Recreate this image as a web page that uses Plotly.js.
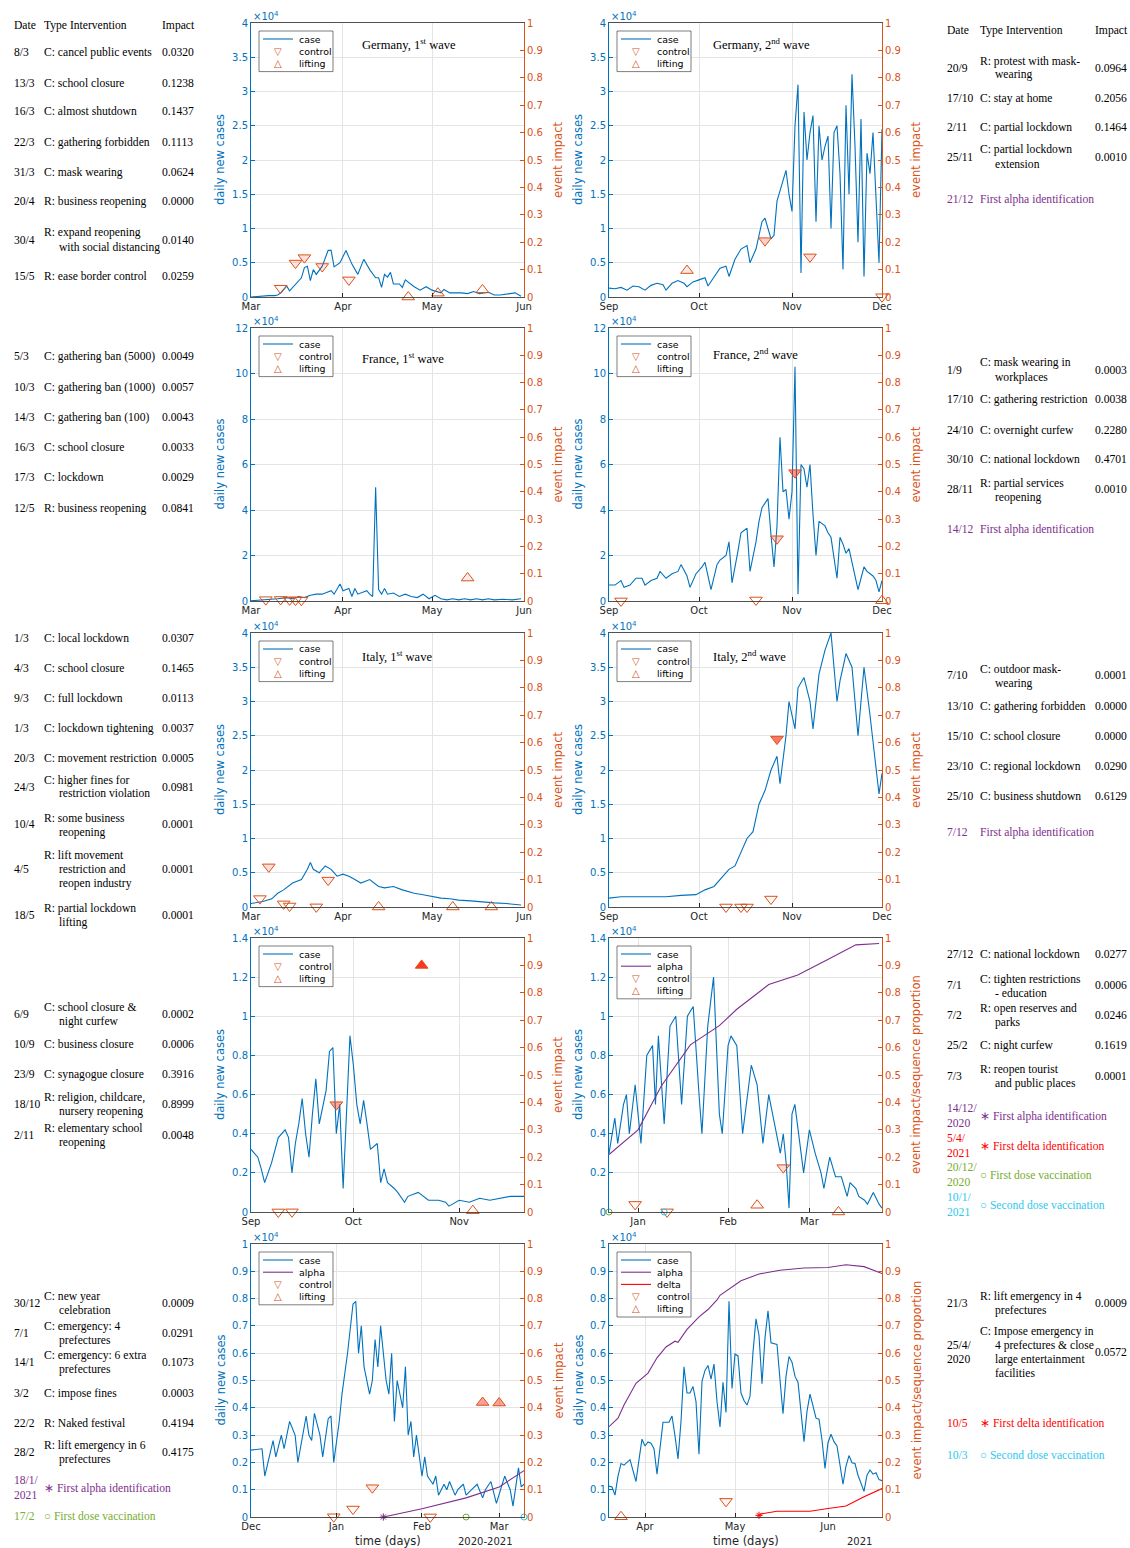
<!DOCTYPE html>
<html><head><meta charset="utf-8">
<script src="https://cdn.plot.ly/plotly-3.0.1.min.js"></script>
<style>body{margin:0;background:#fff}#chart{width:1130px;height:1548px}</style>
</head><body><div id="chart"></div><script>
// ---------------- DATA (daily new cases in units of 10^4; impacts on 0-1) ----------------
const de1Dates=['03-01','03-03','03-05','03-07','03-09','03-10','03-11','03-13','03-14','03-16','03-18','03-19','03-20','03-21','03-22','03-23','03-25','03-27','03-28','03-29','03-31','04-02','04-04','04-06','04-08','04-10','04-12','04-13','04-14','04-15','04-16','04-17','04-18','04-20','04-21','04-22','04-25','04-27','04-29','05-01','05-04','05-05','05-07','05-11','05-13','05-15','05-17','05-20','05-22','05-24','05-28','05-29','05-31'];
const de1Cases=[0.00,0.01,0.01,0.02,0.02,0.03,0.06,0.16,0.09,0.19,0.28,0.43,0.45,0.24,0.40,0.33,0.45,0.68,0.68,0.44,0.50,0.68,0.48,0.33,0.55,0.40,0.28,0.28,0.14,0.33,0.29,0.36,0.19,0.19,0.14,0.25,0.15,0.10,0.15,0.10,0.06,0.11,0.06,0.06,0.05,0.08,0.05,0.07,0.03,0.03,0.05,0.06,0.01];
const de1CtrlDates=['03-11','03-16','03-19','03-25','04-03'], de1CtrlImpact=[0.0320,0.1238,0.1437,0.1113,0.0624];
const de1LiftDates=['04-23','05-03','05-18'], de1LiftImpact=[0.0000,0.0140,0.0259];

const de2Dates=['09-01','09-03','09-05','09-07','09-09','09-11','09-13','09-15','09-17','09-19','09-20','09-22','09-24','09-26','09-27','09-29','10-01','10-03','10-04','10-06','10-08','10-10','10-11','10-13','10-15','10-17','10-18','10-20','10-22','10-23','10-25','10-26','10-27','10-28','10-29','10-30','10-31','11-01','11-02','11-03','11-04','11-05','11-06','11-07','11-08','11-09','11-10','11-11','11-12','11-13','11-14','11-15','11-16','11-17','11-18','11-19','11-20','11-21','11-22','11-23','11-24','11-25','11-26','11-27','11-28','11-30','12-01'];
const de2Cases=[0.13,0.12,0.14,0.10,0.16,0.15,0.10,0.17,0.20,0.18,0.10,0.20,0.24,0.20,0.15,0.22,0.25,0.28,0.16,0.30,0.42,0.45,0.30,0.55,0.70,0.75,0.50,0.70,1.10,1.15,0.85,0.90,1.40,1.55,1.70,1.85,1.50,1.25,2.50,3.10,0.35,2.70,2.00,2.40,2.65,1.10,2.50,2.00,2.20,2.35,1.00,2.40,2.50,1.80,0.40,2.80,1.50,3.25,2.20,0.80,2.60,0.30,2.10,1.80,2.40,0.50,2.45];
const de2CtrlDates=['10-23','11-07','12-01'], de2CtrlImpact=[0.2056,0.1464,0.0010];
const de2LiftDates=['09-27'], de2LiftImpact=[0.0964];

const fr1Dates=['03-01','03-04','03-07','03-10','03-13','03-15','03-17','03-19','03-21','03-23','03-25','03-27','03-28','03-29','03-31','04-01','04-02','04-03','04-04','04-05','04-06','04-08','04-09','04-10','04-11','04-12','04-13','04-14','04-15','04-16','04-18','04-20','04-22','04-24','04-26','04-28','04-30','05-02','05-04','05-06','05-08','05-10','05-12','05-14','05-16','05-18','05-20','05-22','05-25','05-28','05-31'];
const fr1Cases=[0.01,0.03,0.06,0.10,0.15,0.10,0.20,0.15,0.25,0.30,0.30,0.40,0.45,0.30,0.75,0.45,0.50,0.55,0.20,0.55,0.30,0.40,0.45,0.30,0.20,5.00,0.50,0.30,0.55,0.30,0.35,0.20,0.30,0.20,0.15,0.30,0.10,0.25,0.10,0.05,0.10,0.05,0.10,0.05,0.10,0.05,0.10,0.05,0.08,0.05,0.10];
const fr1CtrlDates=['03-06','03-11','03-14','03-16','03-18'], fr1CtrlImpact=[0.0049,0.0057,0.0043,0.0033,0.0029];
const fr1LiftDates=['05-13'], fr1LiftImpact=[0.0841];

const fr2Dates=['09-01','09-03','09-05','09-06','09-08','09-10','09-12','09-13','09-15','09-17','09-18','09-20','09-22','09-24','09-25','09-27','09-28','09-30','10-02','10-03','10-05','10-07','10-08','10-10','10-11','10-12','10-14','10-15','10-17','10-18','10-20','10-21','10-22','10-24','10-25','10-26','10-27','10-28','10-29','10-30','10-31','11-01','11-02','11-03','11-04','11-05','11-06','11-07','11-08','11-09','11-10','11-12','11-13','11-14','11-16','11-17','11-18','11-19','11-20','11-22','11-23','11-24','11-25','11-26','11-27','11-28','11-29','11-30','12-01'];
const fr2Cases=[0.7,0.7,0.9,0.6,0.7,1.0,1.0,0.7,0.9,1.0,1.3,1.0,1.2,1.3,1.6,1.1,0.6,1.2,1.5,1.7,0.5,1.6,1.8,2.0,2.6,0.8,2.2,3.0,3.2,1.3,2.6,3.5,4.1,4.5,2.9,1.5,3.3,7.2,4.8,4.9,3.6,4.8,10.3,0.3,6.0,5.8,5.0,6.0,3.8,2.0,3.5,3.3,3.0,2.8,1.0,2.8,2.5,2.1,2.3,1.1,0.5,1.0,1.5,1.3,1.2,1.1,0.9,0.4,0.9];
const fr2CtrlDates=['09-05','10-20','10-27','11-02'], fr2CtrlImpact=[0.0003,0.0038,0.2280,0.4701];
const fr2LiftDates=['12-01'], fr2LiftImpact=[0.0010];

const it1Dates=['03-01','03-03','03-05','03-08','03-10','03-12','03-15','03-18','03-20','03-21','03-22','03-24','03-26','03-28','03-30','04-01','04-03','04-05','04-07','04-10','04-13','04-15','04-18','04-21','04-25','04-28','05-01','05-04','05-07','05-10','05-14','05-18','05-22','05-26','05-31'];
const it1Cases=[0.05,0.06,0.08,0.12,0.20,0.25,0.35,0.40,0.55,0.65,0.55,0.50,0.60,0.55,0.45,0.48,0.45,0.40,0.35,0.40,0.30,0.28,0.30,0.25,0.20,0.18,0.15,0.13,0.12,0.10,0.09,0.07,0.06,0.05,0.03];
const it1CtrlDates=['03-04','03-07','03-12','03-14','03-23','03-27'], it1CtrlImpact=[0.0307,0.1465,0.0113,0.0037,0.0005,0.0981];
const it1LiftDates=['04-13','05-08','05-21'], it1LiftImpact=[0.0001,0.0001,0.0001];

const it2Dates=['09-01','09-05','09-10','09-15','09-20','09-25','09-30','10-03','10-06','10-09','10-11','10-13','10-15','10-17','10-19','10-21','10-23','10-25','10-27','10-28','10-30','10-31','11-02','11-03','11-05','11-07','11-08','11-10','11-12','11-14','11-16','11-17','11-19','11-21','11-23','11-25','11-27','11-29','11-30','12-01'];
const it2Cases=[0.13,0.15,0.15,0.15,0.15,0.17,0.18,0.25,0.30,0.45,0.55,0.60,0.80,1.00,1.10,1.50,1.70,2.00,2.20,1.80,2.50,3.00,2.60,3.20,3.35,3.00,2.60,3.40,3.75,4.00,3.00,3.30,3.70,3.50,2.50,3.50,2.80,2.00,1.65,1.95];
const it2CtrlDates=['10-10','10-15','10-17','10-25','10-27'], it2CtrlImpact=[0.0001,0.0000,0.0000,0.0290,0.6129];
const it2LiftDates=[], it2LiftImpact=[];

const is1Dates=['09-01','09-02','09-03','09-04','09-05','09-07','09-08','09-09','09-11','09-12','09-13','09-14','09-15','09-16','09-17','09-18','09-19','09-20','09-21','09-23','09-24','09-25','09-26','09-27','09-28','09-30','10-01','10-02','10-03','10-04','10-05','10-06','10-08','10-09','10-10','10-11','10-13','10-14','10-16','10-17','10-20','10-23','10-26','10-28','10-29','11-01','11-04','11-07','11-10','11-13','11-16','11-20'];
const is1Cases=[0.32,0.30,0.28,0.22,0.15,0.25,0.32,0.38,0.42,0.38,0.20,0.35,0.45,0.58,0.40,0.28,0.50,0.68,0.45,0.62,0.82,0.84,0.40,0.55,0.12,0.90,0.75,0.55,0.45,0.57,0.45,0.32,0.35,0.15,0.22,0.15,0.12,0.10,0.05,0.08,0.10,0.06,0.06,0.05,0.03,0.06,0.05,0.07,0.06,0.07,0.08,0.08];
const is1CtrlDates=['09-09','09-13','09-26'], is1CtrlImpact=[0.0002,0.0006,0.3916];
const is1LiftDates=['10-21','11-05'], is1LiftImpact=[0.8999,0.0048];

const is2Dates=['2020-12-22','2020-12-24','2020-12-25','2020-12-27','2020-12-28','2020-12-29','2020-12-31','2021-01-02','2021-01-04','2021-01-06','2021-01-07','2021-01-08','2021-01-10','2021-01-12','2021-01-14','2021-01-16','2021-01-18','2021-01-20','2021-01-22','2021-01-23','2021-01-25','2021-01-27','2021-01-29','2021-01-30','2021-02-01','2021-02-02','2021-02-04','2021-02-06','2021-02-09','2021-02-11','2021-02-13','2021-02-15','2021-02-17','2021-02-19','2021-02-20','2021-02-21','2021-02-22','2021-02-23','2021-02-24','2021-02-26','2021-02-27','2021-03-01','2021-03-03','2021-03-05','2021-03-06','2021-03-08','2021-03-10','2021-03-12','2021-03-14','2021-03-15','2021-03-17','2021-03-18','2021-03-20','2021-03-21','2021-03-23','2021-03-25','2021-03-26'];
const is2Cases=[0.30,0.48,0.35,0.55,0.60,0.40,0.65,0.35,0.80,0.85,0.55,0.90,0.45,0.95,1.00,0.55,1.00,1.05,0.60,0.40,0.95,1.20,0.50,0.40,0.85,0.90,0.85,0.40,0.75,0.65,0.35,0.60,0.45,0.30,0.40,0.25,0.02,0.50,0.55,0.30,0.20,0.42,0.30,0.20,0.12,0.28,0.18,0.18,0.08,0.15,0.12,0.08,0.06,0.04,0.10,0.04,0.02];
const is2AlphaDates=['2020-12-22','2021-01-01','2021-01-09','2021-01-19','2021-01-29','2021-02-04','2021-02-15','2021-02-25','2021-03-07','2021-03-17','2021-03-25'];
const is2AlphaShare=[0.21,0.30,0.46,0.61,0.68,0.74,0.83,0.865,0.92,0.975,0.98];
const is2CtrlDates=['2020-12-31','2021-01-11','2021-02-20'], is2CtrlImpact=[0.0277,0.0006,0.1619];
const is2LiftDates=['2021-02-11','2021-03-11'], is2LiftImpact=[0.0246,0.0001];

const jp1Dates=['2020-12-01','2020-12-05','2020-12-06','2020-12-09','2020-12-10','2020-12-12','2020-12-13','2020-12-15','2020-12-17','2020-12-18','2020-12-21','2020-12-22','2020-12-23','2020-12-24','2020-12-26','2020-12-27','2020-12-29','2020-12-30','2020-12-31','2021-01-02','2021-01-03','2021-01-05','2021-01-07','2021-01-08','2021-01-09','2021-01-10','2021-01-11','2021-01-13','2021-01-14','2021-01-15','2021-01-16','2021-01-17','2021-01-19','2021-01-20','2021-01-21','2021-01-22','2021-01-23','2021-01-25','2021-01-26','2021-01-27','2021-01-28','2021-01-29','2021-01-30','2021-02-01','2021-02-02','2021-02-03','2021-02-05','2021-02-06','2021-02-07','2021-02-09','2021-02-10','2021-02-11','2021-02-13','2021-02-14','2021-02-16','2021-02-17','2021-02-19','2021-02-21','2021-02-23','2021-02-24','2021-02-26','2021-02-28','2021-03-03','2021-03-05','2021-03-06','2021-03-08','2021-03-09','2021-03-10'];
const jp1Cases=[0.245,0.25,0.15,0.28,0.22,0.30,0.25,0.35,0.30,0.20,0.37,0.30,0.28,0.38,0.30,0.22,0.36,0.37,0.20,0.35,0.45,0.60,0.78,0.79,0.60,0.70,0.55,0.45,0.50,0.65,0.55,0.70,0.50,0.45,0.60,0.35,0.50,0.40,0.55,0.30,0.35,0.22,0.30,0.15,0.22,0.15,0.12,0.15,0.08,0.12,0.10,0.13,0.08,0.10,0.12,0.08,0.10,0.12,0.07,0.10,0.13,0.05,0.15,0.10,0.04,0.18,0.11,0.12];
const jp1AlphaDates=['2021-01-18','2021-02-01','2021-02-17','2021-03-01','2021-03-10'], jp1AlphaShare=[0.0,0.03,0.07,0.11,0.17];
const jp1CtrlDates=['2020-12-31','2021-01-07','2021-01-14','2021-02-04'], jp1CtrlImpact=[0.0009,0.0291,0.1073,0.0003];
const jp1LiftDates=['2021-02-23','2021-03-01'], jp1LiftImpact=[0.4194,0.4175];

const jp2Dates=['03-20','03-21','03-22','03-23','03-24','03-25','03-27','03-29','03-30','03-31','04-01','04-02','04-03','04-04','04-05','04-06','04-07','04-09','04-10','04-11','04-12','04-13','04-14','04-15','04-16','04-17','04-18','04-19','04-20','04-21','04-22','04-23','04-24','04-25','04-26','04-27','04-28','04-29','04-30','05-01','05-02','05-03','05-04','05-05','05-06','05-07','05-08','05-09','05-10','05-11','05-12','05-13','05-14','05-15','05-16','05-17','05-18','05-19','05-20','05-21','05-22','05-23','05-24','05-25','05-26','05-27','05-28','05-29','05-30','05-31','06-01','06-02','06-03','06-04','06-05','06-06','06-07','06-08','06-09','06-10','06-11','06-12','06-13','06-14','06-15','06-16','06-17','06-18','06-19'];
const jp2Cases=[0.113,0.11,0.08,0.15,0.196,0.19,0.21,0.13,0.21,0.285,0.26,0.275,0.27,0.25,0.157,0.245,0.347,0.347,0.37,0.297,0.213,0.35,0.55,0.454,0.454,0.478,0.423,0.23,0.497,0.537,0.555,0.505,0.56,0.423,0.33,0.493,0.383,0.79,0.471,0.597,0.59,0.454,0.427,0.41,0.442,0.604,0.726,0.665,0.488,0.656,0.755,0.638,0.636,0.632,0.503,0.378,0.515,0.588,0.567,0.515,0.494,0.393,0.276,0.387,0.45,0.407,0.362,0.358,0.282,0.178,0.272,0.303,0.276,0.26,0.196,0.12,0.186,0.225,0.199,0.196,0.153,0.12,0.094,0.153,0.172,0.157,0.162,0.137,0.133];
const jp2AlphaDates=['03-20','03-23','03-25','03-29','04-02','04-05','04-08','04-11','04-12','04-15','04-19','04-22','04-25','04-26','05-03','05-09','05-16','05-24','06-01','06-07','06-13','06-19'];
const jp2AlphaShare=[0.331,0.362,0.41,0.49,0.527,0.583,0.623,0.644,0.64,0.687,0.733,0.76,0.795,0.812,0.865,0.89,0.904,0.912,0.914,0.924,0.917,0.892];
const jp2DeltaDates=['05-09','05-10','05-15','05-26','06-01','06-07','06-13','06-19'], jp2DeltaShare=[0.006,0.012,0.021,0.021,0.031,0.04,0.074,0.104];
const jp2CtrlDates=['04-28'], jp2CtrlImpact=[0.0572];
const jp2LiftDates=['03-24'], jp2LiftImpact=[0.0009];

// special event markers (date, value on right axis)
const is2VaxDates=['2020-12-22'], is2Vax2Dates=['2021-01-10'];
const jp1AlphaFirst=['2021-01-18'], jp1VaxDates=['2021-02-17'], jp1Vax2Dates=['2021-03-10'];
const jp2DeltaFirst=['05-09'];

// ---------------- TABLE TEXT ----------------
const tblHeader=['Date','Type Intervention','Impact'];
const tDe1=[['8/3','C: cancel public events','0.0320'],['13/3','C: school closure','0.1238'],['16/3','C: almost shutdown','0.1437'],['22/3','C: gathering forbidden','0.1113'],['31/3','C: mask wearing','0.0624'],['20/4','R: business reopening','0.0000'],['30/4','R: expand reopening|with social distancing','0.0140'],['15/5','R: ease border control','0.0259']];
const tDe2=[['20/9','R: protest with mask-|wearing','0.0964'],['17/10','C: stay at home','0.2056'],['2/11','C: partial lockdown','0.1464'],['25/11','C: partial lockdown|extension','0.0010']];
const tDe2Notes=[['21/12','First alpha identification','purple']];
const tFr1=[['5/3','C: gathering ban (5000)','0.0049'],['10/3','C: gathering ban (1000)','0.0057'],['14/3','C: gathering ban (100)','0.0043'],['16/3','C: school closure','0.0033'],['17/3','C: lockdown','0.0029'],['12/5','R: business reopening','0.0841']];
const tFr2=[['1/9','C: mask wearing in|workplaces','0.0003'],['17/10','C: gathering restriction','0.0038'],['24/10','C: overnight curfew','0.2280'],['30/10','C: national lockdown','0.4701'],['28/11','R: partial services|reopening','0.0010']];
const tFr2Notes=[['14/12','First alpha identification','purple']];
const tIt1=[['1/3','C: local lockdown','0.0307'],['4/3','C: school closure','0.1465'],['9/3','C: full lockdown','0.0113'],['1/3','C: lockdown tightening','0.0037'],['20/3','C: movement restriction','0.0005'],['24/3','C: higher fines for|restriction violation','0.0981'],['10/4','R: some business|reopening','0.0001'],['4/5','R: lift movement|restriction and|reopen industry','0.0001'],['18/5','R: partial lockdown|lifting','0.0001']];
const tIt2=[['7/10','C: outdoor mask-|wearing','0.0001'],['13/10','C: gathering forbidden','0.0000'],['15/10','C: school closure','0.0000'],['23/10','C: regional lockdown','0.0290'],['25/10','C: business shutdown','0.6129']];
const tIt2Notes=[['7/12','First alpha identification','purple']];
const tIs1=[['6/9','C: school closure &amp;|night curfew','0.0002'],['10/9','C: business closure','0.0006'],['23/9','C: synagogue closure','0.3916'],['18/10','R: religion, childcare,|nursery reopening','0.8999'],['2/11','R: elementary school|reopening','0.0048']];
const tIs2=[['27/12','C: national lockdown','0.0277'],['7/1','C: tighten restrictions|- education','0.0006'],['7/2','R: open reserves and|parks','0.0246'],['25/2','C: night curfew','0.1619'],['7/3','R: reopen tourist|and public places','0.0001']];
const tIs2Notes=[['14/12/|2020','∗ First alpha identification','purple'],['5/4/|2021','∗ First delta identification','red'],['20/12/|2020','○ First dose vaccination','green'],['10/1/|2021','○ Second dose vaccination','cyan']];
const tJp1=[['30/12','C: new year|celebration','0.0009'],['7/1','C: emergency: 4|prefectures','0.0291'],['14/1','C: emergency: 6 extra|prefectures','0.1073'],['3/2','C: impose fines','0.0003'],['22/2','R: Naked festival','0.4194'],['28/2','R: lift emergency in 6|prefectures','0.4175']];
const tJp1Notes=[['18/1/|2021','∗ First alpha identification','purple'],['17/2','○ First dose vaccination','green']];
const tJp2=[['21/3','R: lift emergency in 4|prefectures','0.0009'],['25/4/|2020','C: Impose emergency in|4 prefectures &amp; close|large entertainment|facilities','0.0572']];
const tJp2Notes=[['10/5','∗ First delta identification','red'],['10/3','○ Second dose vaccination','cyan']];

// ---------------- STYLE / LAYOUT ----------------
const W=1130,H=1548;
const px=x=>x/W, py=y=>1-y/H;
const BLUE='#0072BD',ORANGE='#D95319',PURPLE='#7E2F8E',GREEN='#77AC30',CYAN='#2EC8EE',RED='#FF0000',DARK='#262626',GRID='#E4E4E4';
const NOTE={purple:PURPLE,red:RED,green:GREEN,cyan:CYAN};
const SANS='DejaVu Sans, sans-serif', SERIF='Liberation Serif, Times New Roman, serif';
const COLX=[[251,524],[609,882]];
const ROWY=[[23,297],[328,601],[633,907],[938,1212],[1244,1517]];
const TITLE_POS=[[109,21],[102,21],[109,30],[102,26],[109,23],[102,23]];

const PANELS=[
 {yr:2020,range:['2020-03-01','2020-06-01'],ymax:4,dt:0.5,d:de1Dates,c:de1Cases,cd:de1CtrlDates,ci:de1CtrlImpact,ld:de1LiftDates,li:de1LiftImpact,title:'Germany, 1<sup>st</sup> wave',rt:'event impact',leg:['case','control','lifting']},
 {yr:2020,range:['2020-09-01','2020-12-01'],ymax:4,dt:0.5,d:de2Dates,c:de2Cases,cd:de2CtrlDates,ci:de2CtrlImpact,ld:de2LiftDates,li:de2LiftImpact,title:'Germany, 2<sup>nd</sup> wave',rt:'event impact',leg:['case','control','lifting']},
 {yr:2020,range:['2020-03-01','2020-06-01'],ymax:12,dt:2,d:fr1Dates,c:fr1Cases,cd:fr1CtrlDates,ci:fr1CtrlImpact,ld:fr1LiftDates,li:fr1LiftImpact,title:'France, 1<sup>st</sup> wave',rt:'event impact',leg:['case','control','lifting']},
 {yr:2020,range:['2020-09-01','2020-12-01'],ymax:12,dt:2,d:fr2Dates,c:fr2Cases,cd:fr2CtrlDates,ci:fr2CtrlImpact,ld:fr2LiftDates,li:fr2LiftImpact,title:'France, 2<sup>nd</sup> wave',rt:'event impact',leg:['case','control','lifting']},
 {yr:2020,range:['2020-03-01','2020-06-01'],ymax:4,dt:0.5,d:it1Dates,c:it1Cases,cd:it1CtrlDates,ci:it1CtrlImpact,ld:it1LiftDates,li:it1LiftImpact,title:'Italy, 1<sup>st</sup> wave',rt:'event impact',leg:['case','control','lifting']},
 {yr:2020,range:['2020-09-01','2020-12-01'],ymax:4,dt:0.5,d:it2Dates,c:it2Cases,cd:it2CtrlDates,ci:it2CtrlImpact,ld:it2LiftDates,li:it2LiftImpact,title:'Italy, 2<sup>nd</sup> wave',rt:'event impact',leg:['case','control','lifting']},
 {yr:2020,range:['2020-09-01','2020-11-20'],ymax:1.4,dt:0.2,d:is1Dates,c:is1Cases,cd:is1CtrlDates,ci:is1CtrlImpact,ld:is1LiftDates,li:is1LiftImpact,rt:'event impact',leg:['case','control','lifting']},
 {yr:2021,range:['2020-12-22','2021-03-26'],ymax:1.4,dt:0.2,d:is2Dates,c:is2Cases,cd:is2CtrlDates,ci:is2CtrlImpact,ld:is2LiftDates,li:is2LiftImpact,alpha:[is2AlphaDates,is2AlphaShare],
  spec:[[is2VaxDates,'circle-open',GREEN],[is2Vax2Dates,'circle-open',CYAN]],rt:'event impact/sequence proportion',leg:['case','alpha','control','lifting']},
 {yr:2021,range:['2020-12-01','2021-03-10'],ymax:1,dt:0.1,d:jp1Dates,c:jp1Cases,cd:jp1CtrlDates,ci:jp1CtrlImpact,ld:jp1LiftDates,li:jp1LiftImpact,alpha:[jp1AlphaDates,jp1AlphaShare],
  spec:[[jp1AlphaFirst,'asterisk-open',PURPLE],[jp1VaxDates,'circle-open',GREEN],[jp1Vax2Dates,'circle-open',CYAN]],rt:'event impact',leg:['case','alpha','control','lifting']},
 {yr:2021,range:['2021-03-20','2021-06-19'],ymax:1,dt:0.1,d:jp2Dates,c:jp2Cases,cd:jp2CtrlDates,ci:jp2CtrlImpact,ld:jp2LiftDates,li:jp2LiftImpact,alpha:[jp2AlphaDates,jp2AlphaShare],delta:[jp2DeltaDates,jp2DeltaShare],
  spec:[[jp2DeltaFirst,'asterisk-open',RED,'delta']],rt:'event impact/sequence proportion',leg:['case','alpha','delta','control','lifting']}
];

const traces=[],shapes=[],annotations=[];
const layout={width:W,height:H,margin:{l:0,r:0,t:0,b:0},paper_bgcolor:'#fff',plot_bgcolor:'#fff',showlegend:false,
  font:{family:SANS,size:10,color:DARK},shapes,annotations};
const fill=v=>`rgba(255,30,10,${Math.min(1,Math.max(0,v)).toFixed(3)})`;
function ann(x,y,text,o={}){annotations.push(Object.assign({xref:'paper',yref:'paper',x:px(x),y:py(y),text,showarrow:false,xanchor:'left',yanchor:'middle',
  font:{family:SANS,size:10,color:DARK}},o));}
function serif(x,y,text,color,o={}){ann(x,y,text,Object.assign({font:{family:SERIF,size:11.6,color:color||'#000'}},o));}

PANELS.forEach((p,k)=>{
  const n=k+1,r=Math.floor(k/2),c=k%2;
  const ln=2*k+1,rn=2*k+2;
  const xa=n===1?'x':'x'+n, yl=ln===1?'y':'y'+ln, yr='y'+rn;
  const [x0,x1]=COLX[c],[y0,y1]=ROWY[r];
  const fx=d=>d.length===5?p.yr+'-'+d:d;
  layout['xaxis'+(n===1?'':n)]={domain:[px(x0),px(x1)],anchor:yl,type:'date',range:p.range,tickformat:'%b',dtick:'M1',tick0:'2000-01-01',
    ticks:'inside',ticklen:4,tickcolor:DARK,tickfont:{family:SANS,size:10,color:DARK},showgrid:true,gridcolor:GRID,
    showline:true,linecolor:DARK,linewidth:0.8,mirror:true,zeroline:false,fixedrange:true};
  layout['yaxis'+(ln===1?'':ln)]={domain:[py(y1),py(y0)],anchor:xa,range:[0,p.ymax],dtick:p.dt,tick0:0,ticks:'inside',ticklen:4,tickcolor:BLUE,
    tickfont:{family:SANS,size:10,color:BLUE},showgrid:true,gridcolor:GRID,showline:true,linecolor:BLUE,linewidth:1,zeroline:false,fixedrange:true};
  layout['yaxis'+rn]={overlaying:yl,side:'right',anchor:xa,range:[0,1],dtick:0.1,tick0:0,ticks:'inside',ticklen:4,tickcolor:ORANGE,
    tickfont:{family:SANS,size:10,color:ORANGE},showgrid:false,showline:true,linecolor:ORANGE,linewidth:1,zeroline:false,fixedrange:true};
  traces.push({type:'scatter',mode:'lines',x:p.d.map(fx),y:p.c,xaxis:xa,yaxis:yl,line:{color:BLUE,width:1.1},hoverinfo:'skip'});
  if(p.alpha) traces.push({type:'scatter',mode:'lines',x:p.alpha[0].map(fx),y:p.alpha[1],xaxis:xa,yaxis:yr,line:{color:PURPLE,width:1.1},hoverinfo:'skip'});
  if(p.delta) traces.push({type:'scatter',mode:'lines',x:p.delta[0].map(fx),y:p.delta[1],xaxis:xa,yaxis:yr,line:{color:RED,width:1.1},hoverinfo:'skip'});
  traces.push({type:'scatter',mode:'markers',x:p.cd.map(fx),y:p.ci,xaxis:xa,yaxis:yr,cliponaxis:false,hoverinfo:'skip',
    marker:{symbol:'triangle-down',size:11,color:p.ci.map(fill),line:{color:ORANGE,width:1}}});
  if(p.ld.length) traces.push({type:'scatter',mode:'markers',x:p.ld.map(fx),y:p.li,xaxis:xa,yaxis:yr,cliponaxis:false,hoverinfo:'skip',
    marker:{symbol:'triangle-up',size:11,color:p.li.map(fill),line:{color:ORANGE,width:1}}});
  (p.spec||[]).forEach(s=>{
    const ys=s[3]==='delta'?[p.delta[1][0]]:s[0].map(()=>0);
    traces.push({type:'scatter',mode:'markers',x:s[0].map(fx),y:ys,xaxis:xa,yaxis:yr,cliponaxis:false,hoverinfo:'skip',
      marker:{symbol:s[1],size:6,color:s[2],line:{color:s[2],width:1}}});
  });
  // exponent label, title, axis titles
  ann(x0,y0-7,'×10<sup>4</sup>',{font:{family:SANS,size:10,color:BLUE}});
  if(p.title) ann(x0+TITLE_POS[k][0],y0+TITLE_POS[k][1],p.title,{font:{family:SERIF,size:12.5,color:'#000'}});
  ann(x0-31,(y0+y1)/2,'daily new cases',{xanchor:'center',textangle:-90,font:{family:SANS,size:11.5,color:BLUE}});
  ann(x1+34,(y0+y1)/2,p.rt,{xanchor:'center',textangle:-90,font:{family:SANS,size:11.5,color:ORANGE}});
  // legend box
  const L=x0+8,T=y0+8,items=p.leg,h=items.length*12.2+4;
  shapes.push({type:'rect',xref:'paper',yref:'paper',x0:px(L),x1:px(L+74),y0:py(T+h),y1:py(T),line:{color:DARK,width:0.6},fillcolor:'#fff',layer:'above'});
  items.forEach((it,i)=>{
    const yc=T+8+i*12.2;
    if(it==='case'||it==='alpha'||it==='delta'){
      const col=it==='case'?BLUE:it==='alpha'?PURPLE:RED;
      shapes.push({type:'line',xref:'paper',yref:'paper',x0:px(L+4),x1:px(L+34),y0:py(yc),y1:py(yc),line:{color:col,width:1.1},layer:'above'});
    } else {
      ann(L+19,yc,it==='control'?'▽':'△',{xanchor:'center',font:{family:SANS,size:10,color:ORANGE}});
    }
    ann(L+38,yc,it,{font:{family:SANS,size:9.4,color:'#000'}});
  });
});

// x-axis titles and year labels for the bottom row
ann(388,1541,'time (days)',{xanchor:'center',font:{family:SANS,size:11.5,color:DARK}});
ann(746,1541,'time (days)',{xanchor:'center',font:{family:SANS,size:11.5,color:DARK}});
ann(485,1541,'2020-2021',{xanchor:'center',font:{family:SANS,size:10,color:DARK}});
ann(859,1541,'2021',{xanchor:'center',font:{family:SANS,size:10,color:DARK}});

// ---------------- TABLES ----------------
const LEFT={d:12,t:42,ind:15,i:160}, RIGHT={d:945,t:978,ind:15,i:1093};
function table(cols,rows,ys){
  rows.forEach((row,j)=>{
    const yc=ys[j];
    const dl=row[0].split('|'), tl=row[1].split('|');
    dl.forEach((s,m)=>serif(cols.d,yc+(m-(dl.length-1)/2)*14.5,s));
    tl.forEach((s,m)=>serif(cols.t+(m?cols.ind:0),yc+(m-(tl.length-1)/2)*14,s));
    serif(cols.i,yc,row[2]);
  });
}
function notes(cols,rows,ys){
  rows.forEach((row,j)=>{
    const col=NOTE[row[2]], dl=row[0].split('|');
    dl.forEach((s,m)=>serif(cols.d,ys[j]+(m-(dl.length-1)/2)*14.5,s,col));
    serif(cols.t,ys[j],row[1],col);
  });
}
function header(cols,y){serif(cols.d,y,tblHeader[0]);serif(cols.t,y,tblHeader[1]);serif(cols.i,y,tblHeader[2]);}
header(LEFT,26); header(RIGHT,31);
table(LEFT,tDe1,[53,83,112,142,172,202,240,277]);
table(RIGHT,tDe2,[68,98,128,157]); notes(RIGHT,tDe2Notes,[200]);
table(LEFT,tFr1,[357,387,417,447,477,508]);
table(RIGHT,tFr2,[370,400,430,460,490]); notes(RIGHT,tFr2Notes,[529]);
table(LEFT,tIt1,[638,668,698,728,758,787,825,869,915]);
table(RIGHT,tIt2,[676,706,736,766,796]); notes(RIGHT,tIt2Notes,[832]);
table(LEFT,tIs1,[1014,1044,1074,1104,1135]);
table(RIGHT,tIs2,[955,986,1015,1045,1076]); notes(RIGHT,tIs2Notes,[1116,1146,1175,1205]);
table(LEFT,tJp1,[1303,1333,1362,1393,1423,1452]); notes(LEFT,tJp1Notes,[1488,1516]);
table(RIGHT,tJp2,[1303,1352.5]); notes(RIGHT,tJp2Notes,[1423,1455]);

Plotly.newPlot('chart',traces,layout,{staticPlot:true,displayModeBar:false});
</script></body></html>
